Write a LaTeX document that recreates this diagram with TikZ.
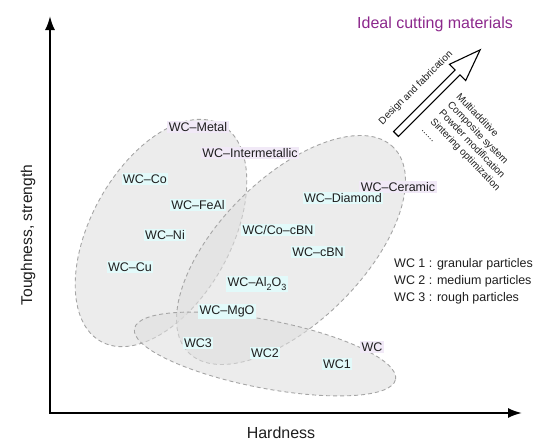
\documentclass[tikz,border=0pt]{standalone}
\usepackage{fontspec}
\setmainfont{Liberation Sans}
\usetikzlibrary{arrows.meta}
\definecolor{lblcyan}{RGB}{226,250,250}
\definecolor{lblpurp}{RGB}{241,233,247}
\definecolor{ellfill}{RGB}{222,222,222}
\definecolor{elldraw}{RGB}{165,165,165}
\definecolor{idealc}{RGB}{140,40,140}
\definecolor{txt}{RGB}{30,30,30}
\newcommand\lsub[1]{\raisebox{-0.6ex}{\fontsize{9}{9}\selectfont #1}}
\begin{document}
\begin{tikzpicture}[x=1pt,y=-1pt,
  region/.style={fill=ellfill, fill opacity=0.58, draw=elldraw, dash pattern=on 4pt off 3pt, line width=0.9pt},
  lbl/.style={font=\fontsize{12.5}{14}\selectfont, text=txt, inner sep=1.5pt, anchor=base},
  cyanlbl/.style={lbl, fill=lblcyan},
  purplbl/.style={lbl, fill=lblpurp},
  axis/.style={line width=2pt, {Latex[length=14pt,width=10pt]}-{Latex[length=14pt,width=10pt]}},
  legend/.style={font=\fontsize{12.5}{14}\selectfont, text=txt, inner sep=0pt, anchor=base west},
  small/.style={font=\fontsize{10}{12}\selectfont, text=txt},
  ]
\path[use as bounding box] (0,0) rectangle (560,442);

% regions
\path[region, shift={(161,233)}, rotate=61] (0,0) ellipse [x radius=124pt, y radius=70pt];
\path[region, shift={(291,250)}, rotate=45] (0,0) ellipse [x radius=145pt, y radius=72pt];
\path[region, shift={(265,354)}, rotate=-11] (0,0) ellipse [x radius=133pt, y radius=34pt];

% axes
\coordinate (ytip) at (50,16);
\coordinate (origin) at (50,413);
\coordinate (xtip) at (522,413);
\draw[axis] (ytip) -- (origin) -- (xtip);
\node[font=\fontsize{16}{18}\selectfont, text=txt, anchor=base] (hard) at (281,438) {Hardness};
\node[font=\fontsize{15.6}{18}\selectfont, text=txt, rotate=90] (tough) at (28,235) {Toughness, strength};

% title and arrow
\node[font=\fontsize{16}{18}\selectfont, text=idealc, anchor=base west, inner sep=0pt] (ideal) at (357,28) {Ideal cutting materials};
\draw[line width=1.1pt, fill=white, shift={(396,134)}, rotate=45]
  (0,-3.5) -- (87,-3.5) -- (87,-11.5) -- (119,0) -- (87,11.5) -- (87,3.5) -- (0,3.5) -- cycle;
\node[small, rotate=45] (design) at (416,88) {Design and fabrication};
\node[small, rotate=-46, anchor=north west, align=left, inner sep=0pt] (methods) at (461,92)
  {Multiadditive\\Composite system\\Powder modification\\Sintering optimization\\......};

% labels
\node[purplbl] (metal) at (198,131.5) {WC–Metal};
\node[purplbl] (inter) at (250,157.5) {WC–Intermetallic};
\node[purplbl] (ceramic) at (398,191.5) {WC–Ceramic};
\node[purplbl] (wc) at (372,351.5) {WC};
\node[cyanlbl] (co) at (145,183.5) {WC–Co};
\node[cyanlbl] (feal) at (198,209.5) {WC–FeAl};
\node[cyanlbl] (ni) at (165,239.5) {WC–Ni};
\node[cyanlbl] (cu) at (130,271.5) {WC–Cu};
\node[cyanlbl] (diamond) at (343,202.5) {WC–Diamond};
\node[cyanlbl] (cocbn) at (278,234.5) {WC/Co–cBN};
\node[cyanlbl] (cbn) at (318,256.5) {WC–cBN};
\node[cyanlbl] (alo) at (257,286.5) {WC–Al\lsub{2}O\lsub{3}};
\node[cyanlbl] (mgo) at (227,314.5) {WC–MgO};
\node[cyanlbl] (wc3) at (198,347.5) {WC3};
\node[cyanlbl] (wc2) at (265,357.5) {WC2};
\node[cyanlbl] (wc1) at (337,368.5) {WC1};

% legend
\node[legend] (leg1) at (394,267.5) {WC 1 : granular particles};
\node[legend] (leg2) at (394,284.5) {WC 2 : medium particles};
\node[legend] (leg3) at (394,301.5) {WC 3 : rough particles};
\end{tikzpicture}
\end{document}
